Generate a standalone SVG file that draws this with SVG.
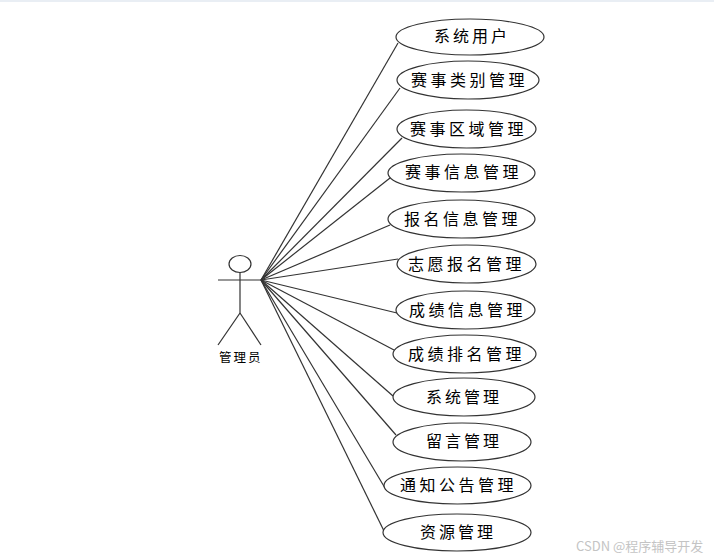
<svg xmlns="http://www.w3.org/2000/svg" width="714" height="559" viewBox="0 0 714 559">
<style>
.u{fill:#fff;stroke:#333;stroke-width:1.2}
.t{font-family:"Noto Sans CJK SC","Noto Sans",sans-serif;font-size:16px;fill:#000;text-anchor:start}
.c line,.a line,.a circle,.a ellipse{stroke:#333;stroke-width:1.2;fill:none}
.w{font-family:"Noto Sans CJK SC","Noto Sans",sans-serif;font-size:13px;fill:#c4c4c4}
</style>
<rect width="714" height="559" fill="#fff"/>
<rect width="714" height="2" fill="#e9eef4"/>
<g id="connectors" class="c">
<line x1="261" y1="280" x2="398" y2="43"/>
<line x1="261" y1="280" x2="400" y2="88"/>
<line x1="261" y1="280" x2="402" y2="138"/>
<line x1="261" y1="280" x2="390" y2="178"/>
<line x1="261" y1="280" x2="390" y2="225"/>
<line x1="261" y1="280" x2="398" y2="259"/>
<line x1="261" y1="280" x2="397" y2="313"/>
<line x1="261" y1="280" x2="394" y2="350"/>
<line x1="261" y1="280" x2="393" y2="396"/>
<line x1="261" y1="280" x2="396" y2="435"/>
<line x1="261" y1="280" x2="385" y2="488"/>
<line x1="261" y1="280" x2="384" y2="531"/>
</g>
<g id="actor" class="a">
<ellipse cx="240" cy="264" rx="11" ry="8.500"/>
<line x1="240" y1="272" x2="240" y2="313"/>
<line x1="218" y1="280" x2="262" y2="280"/>
<line x1="240" y1="313" x2="218" y2="345"/>
<line x1="240" y1="313" x2="261" y2="345"/>
<text x="219" y="362" style="font-family:'Noto Sans CJK SC',sans-serif;font-size:12.500px;fill:#000;stroke:none;letter-spacing:2px">管理员</text>
</g>
<g id="n1"><ellipse class="u" cx="470" cy="37" rx="74" ry="18"/><text class="t" x="434" y="42" letter-spacing="3">系统用户</text></g>
<g id="n2"><ellipse class="u" cx="468" cy="80" rx="71" ry="19"/><text class="t" x="411" y="86" letter-spacing="3.500">赛事类别管理</text></g>
<g id="n3"><ellipse class="u" cx="466.500" cy="129" rx="69.500" ry="19"/><text class="t" x="410" y="135" letter-spacing="3.500">赛事区域管理</text></g>
<g id="n4"><ellipse class="u" cx="461.500" cy="173" rx="73.500" ry="19"/><text class="t" x="405" y="178" letter-spacing="3.500">赛事信息管理</text></g>
<g id="n5"><ellipse class="u" cx="461.500" cy="219" rx="73.500" ry="19"/><text class="t" x="404" y="225" letter-spacing="3.500">报名信息管理</text></g>
<g id="n6"><ellipse class="u" cx="466.500" cy="264" rx="69.500" ry="19"/><text class="t" x="408" y="270" letter-spacing="3.500">志愿报名管理</text></g>
<g id="n7"><ellipse class="u" cx="465.500" cy="310" rx="69.500" ry="19"/><text class="t" x="409" y="316" letter-spacing="3.500">成绩信息管理</text></g>
<g id="n8"><ellipse class="u" cx="464.500" cy="354" rx="71.500" ry="19"/><text class="t" x="408" y="360" letter-spacing="3.500">成绩排名管理</text></g>
<g id="n9"><ellipse class="u" cx="464" cy="397" rx="71" ry="19"/><text class="t" x="426" y="403" letter-spacing="3">系统管理</text></g>
<g id="n10"><ellipse class="u" cx="462" cy="442" rx="69" ry="19"/><text class="t" x="426" y="447" letter-spacing="3">留言管理</text></g>
<g id="n11"><ellipse class="u" cx="457.500" cy="485.500" rx="73.500" ry="18.500"/><text class="t" x="400" y="491" letter-spacing="3.500">通知公告管理</text></g>
<g id="n12"><ellipse class="u" cx="457" cy="532.500" rx="74" ry="18.500"/><text class="t" x="420" y="538" letter-spacing="3">资源管理</text></g>
<text class="w" x="576" y="551">CSDN @程序辅导开发</text>
</svg>
